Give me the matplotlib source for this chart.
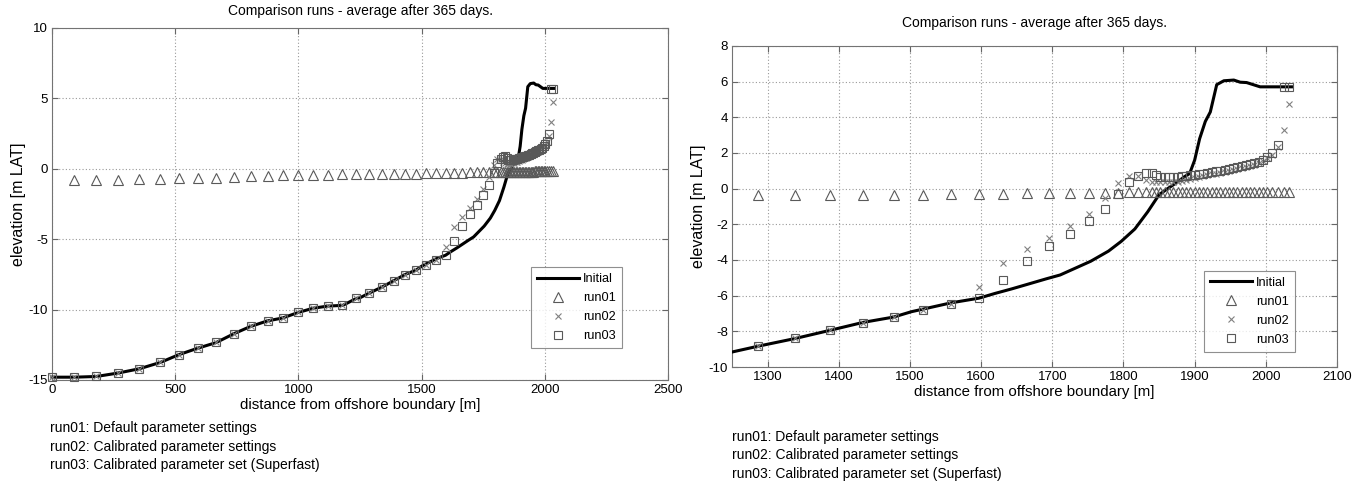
import matplotlib
matplotlib.use("Agg")
import matplotlib.pyplot as plt
import numpy as np

plt.rcParams['font.family'] = ['Liberation Sans', 'DejaVu Sans']
plt.rcParams['axes.unicode_minus'] = False

# ---------------- data ----------------
title = "Comparison runs - average after 365 days."
xlabel = "distance from offshore boundary [m]"
ylabel = "elevation [m LAT]"
notes = ["run01: Default parameter settings",
         "run02: Calibrated parameter settings",
         "run03: Calibrated parameter set (Superfast)"]
legend_labels = ["Initial", "run01", "run02", "run03"]

x_init = [0, 92, 180, 270, 355, 440, 515, 590, 665, 740, 805, 875, 935, 1000,
          1060, 1120, 1180, 1236, 1250, 1286, 1339, 1387, 1434, 1477, 1502,
          1520, 1558, 1597, 1619, 1643, 1668, 1692, 1711, 1730, 1754, 1779,
          1797, 1816, 1834, 1850, 1862, 1875, 1886, 1893, 1900, 1907, 1915,
          1922, 1931, 1941, 1955, 1964, 1973, 1992, 2036]
y_init = [-14.8, -14.8, -14.75, -14.5, -14.2, -13.75, -13.2, -12.75, -12.35,
          -11.7, -11.2, -10.8, -10.6, -10.2, -9.9, -9.75, -9.7, -9.2, -9.16,
          -8.84, -8.4, -7.95, -7.5, -7.2, -6.9, -6.74, -6.4, -6.14, -5.88,
          -5.62, -5.33, -5.05, -4.84, -4.5, -4.07, -3.5, -2.95, -2.26, -1.3,
          -0.34, 0.0, 0.35, 0.68, 0.85, 1.6, 2.8, 3.77, 4.3, 5.83, 6.05, 6.09,
          5.97, 5.95, 5.71, 5.71]

x_pts = [0, 90, 178, 266, 353, 438, 515, 591, 665, 739, 806, 875, 936, 999,
         1059, 1120, 1178, 1235, 1287, 1338, 1387, 1434, 1477, 1519, 1558,
         1597, 1631, 1665, 1696, 1725, 1751, 1774, 1793, 1808, 1821, 1832,
         1840, 1846, 1852, 1858, 1864, 1870, 1876, 1882, 1888, 1894, 1900,
         1906, 1912, 1918, 1924, 1930, 1936, 1942, 1948, 1954, 1960, 1966,
         1972, 1978, 1984, 1990, 1996, 2002, 2009, 2017, 2025, 2033]

run01 = [np.nan, -0.83, -0.78, -0.76, -0.71, -0.69, -0.66, -0.62, -0.62, -0.57,
         -0.52, -0.5, -0.46, -0.45, -0.43, -0.41, -0.4, -0.38, -0.38, -0.38,
         -0.37, -0.36, -0.34, -0.33, -0.31, -0.3, -0.28, -0.27, -0.26, -0.25,
         -0.24, -0.23, -0.22, -0.21, -0.21, -0.2, -0.2, -0.2, -0.2, -0.2,
         -0.2, -0.2, -0.2, -0.2, -0.2, -0.2, -0.2, -0.2, -0.2, -0.2, -0.2,
         -0.2, -0.2, -0.2, -0.2, -0.2, -0.19, -0.19, -0.19, -0.19, -0.19,
         -0.19, -0.19, -0.18, -0.18, -0.18, -0.18, -0.18]

run02 = [-14.8, -14.8, -14.7, -14.5, -14.2, -13.7, -13.2, -12.7, -12.3, -11.7,
         -11.2, -10.8, -10.6, -10.2, -9.9, -9.75, -9.7, -9.2, -8.84, -8.38,
         -7.95, -7.52, -7.17, -6.83, -6.48, -5.53, -4.15, -3.41, -2.78, -2.12,
         -1.4, -0.55, 0.3, 0.7, 0.72, 0.5, 0.4, 0.37, 0.36, 0.36, 0.37, 0.38,
         0.4, 0.45, 0.5, 0.55, 0.6, 0.65, 0.7, 0.75, 0.8, 0.85, 0.9, 0.95,
         1.0, 1.05, 1.1, 1.15, 1.2, 1.27, 1.35, 1.45, 1.56, 1.7, 1.9, 2.35,
         3.3, 4.77]

run03 = [-14.8, -14.8, -14.7, -14.5, -14.2, -13.7, -13.2, -12.7, -12.3, -11.7,
         -11.2, -10.8, -10.6, -10.2, -9.9, -9.75, -9.7, -9.2, -8.84, -8.38,
         -7.95, -7.52, -7.17, -6.83, -6.48, -6.14, -5.14, -4.03, -3.24, -2.55,
         -1.83, -1.16, -0.3, 0.4, 0.7, 0.86, 0.9, 0.76, 0.63, 0.63, 0.64,
         0.66, 0.68, 0.7, 0.73, 0.76, 0.79, 0.82, 0.85, 0.89, 0.93, 0.97,
         1.01, 1.06, 1.1, 1.15, 1.2, 1.25, 1.3, 1.36, 1.42, 1.5, 1.6, 1.75,
         2.0, 2.46, 5.7, 5.7]

left_xticks = [0, 500, 1000, 1500, 2000, 2500]
left_yticks = [-15, -10, -5, 0, 5, 10]
right_xticks = [1300, 1400, 1500, 1600, 1700, 1800, 1900, 2000, 2100]
right_yticks = [-10, -8, -6, -4, -2, 0, 2, 4, 6, 8]

# ---------------- figure ----------------
W, H = 1365, 488
fig = plt.figure(figsize=(W / 100, H / 100), dpi=100)
fig.patch.set_facecolor('white')

def px_rect(x0, y0, x1, y1):
    return [x0 / W, 1 - y1 / H, (x1 - x0) / W, (y1 - y0) / H]

axL = fig.add_axes(px_rect(52, 28, 668, 380))
axR = fig.add_axes(px_rect(732, 46, 1337, 367))

FS_TICK = 9.5
FS_TITLE = 10
FS_XLAB = 10.8
FS_YLAB = 11.5
FS_LEG = 9.2
FS_NOTE = 10

def draw(ax, xlim, ylim, xt, yt, leg_anchor, title_pad, clip):
    ax.plot(x_init, y_init, color='black', lw=2.2, label=legend_labels[0],
            zorder=3, clip_on=clip)
    ax.plot(x_pts, run01, ls='none', marker='^', ms=6.5, mfc='none',
            mec='0.35', mew=0.8, label=legend_labels[1], zorder=4, clip_on=clip)
    ax.plot(x_pts, run02, ls='none', marker='x', ms=5, mec='0.5',
            mew=0.8, label=legend_labels[2], zorder=4, clip_on=clip)
    ax.plot(x_pts, run03, ls='none', marker='s', ms=6, mfc='none',
            mec='0.35', mew=0.8, label=legend_labels[3], zorder=4, clip_on=clip)
    ax.set_xlim(*xlim)
    ax.set_ylim(*ylim)
    ax.set_xticks(xt)
    ax.set_yticks(yt)
    ax.grid(True, ls=(0, (1, 2)), color='0.6', lw=0.8)
    ax.tick_params(direction='in', top=True, right=True, length=4,
                   labelsize=FS_TICK, color='0.4', pad=3)
    for s in ax.spines.values():
        s.set_color('0.45')
        s.set_linewidth(0.8)
    ax.set_title(title, fontsize=FS_TITLE, pad=title_pad)
    ax.set_xlabel(xlabel, fontsize=FS_XLAB, labelpad=1)
    ax.set_ylabel(ylabel, fontsize=FS_YLAB, labelpad=2)
    leg = ax.legend(loc='lower right', bbox_to_anchor=leg_anchor, fontsize=FS_LEG,
                    frameon=True, fancybox=False, edgecolor='0.45',
                    handlelength=3.3, borderpad=0.45, labelspacing=0.55,
                    handletextpad=0.35, borderaxespad=0)
    leg.get_frame().set_linewidth(0.8)

draw(axL, (0, 2500), (-15, 10), left_xticks, left_yticks, (0.925, 0.091), 9, False)
draw(axR, (1250, 2100), (-10, 8), right_xticks, right_yticks, (0.93, 0.048), 14, True)

for i, t in enumerate(notes):
    fig.text(50 / W, 1 - (428 + 18.5 * i) / H, t, fontsize=FS_NOTE, va='center', ha='left')
    fig.text(732 / W, 1 - (437 + 18.5 * i) / H, t, fontsize=FS_NOTE, va='center', ha='left')

fig.savefig('out.png', dpi=100, facecolor='white')
